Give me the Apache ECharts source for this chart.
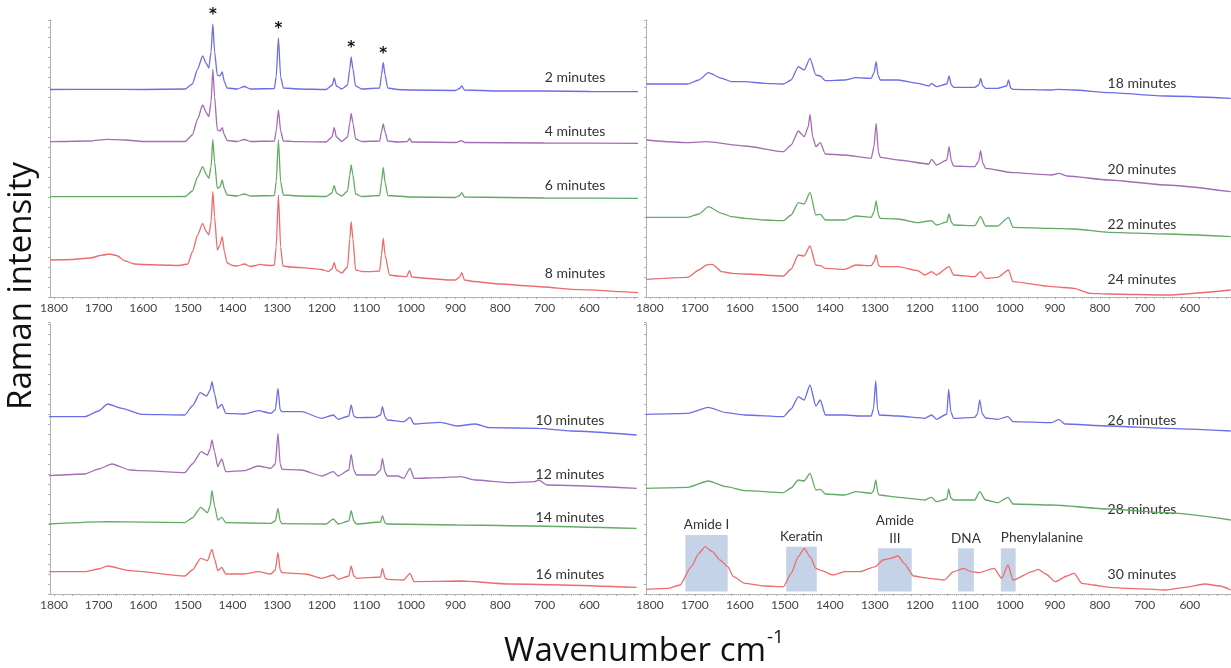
<!DOCTYPE html>
<html>
<head>
<meta charset="utf-8">
<script src="https://cdn.jsdelivr.net/npm/echarts@6/dist/echarts.min.js"></script>
<style>
html,body{margin:0;padding:0;background:#fff;}
#chart{width:1231px;height:668px;}
</style>
</head>
<body>
<div id="chart"></div>
<script>
// ---------- tick labels ----------
const tickLabels = [1800, 1700, 1600, 1500, 1400, 1300, 1200, 1100, 1000, 900, 800, 700, 600];

// ---------- spectra: [wavenumber cm-1, intensity (offset, arbitrary units)] ----------
// Panel A (2-8 minutes)
const spec02 = [[1809,207.5],[1700,207.7],[1600,207.5],[1506,208],[1490,213],[1478,228],[1467,241],[1458,233],[1453,229],[1448,245],[1444,273],[1440,245],[1434,222],[1428,221],[1423,225],[1418,215],[1412,209],[1390,208],[1373,210.5],[1360,208],[1306,208.5],[1302,220],[1297,259],[1292,220],[1286,209],[1250,208],[1190,207.5],[1176,212],[1172,219],[1167,211],[1155,208],[1142,212],[1137,228],[1134,240],[1130,228],[1124,211],[1110,208],[1070,209],[1066,222],[1062,234.5],[1058,222],[1052,209],[1030,207.5],[1000,207],[900,206.5],[891,208.5],[886,211],[880,207],[800,206],[700,206],[600,205.5],[491,205.3]];
const spec04 = [[1809,155.3],[1720,156],[1680,157.7],[1640,157],[1600,155.5],[1506,155.5],[1490,162],[1478,178],[1467,192],[1458,184],[1453,180.3],[1448,195],[1444,227.7],[1440,200],[1434,167],[1428,166],[1423,169.3],[1418,162],[1412,156.5],[1390,155.5],[1373,157.5],[1360,155.5],[1306,156],[1302,166],[1297,187],[1292,166],[1286,156],[1250,155.3],[1190,155],[1177,160],[1172,169.3],[1167,160],[1155,155.5],[1142,160],[1137,174],[1134,183.7],[1130,174],[1124,158],[1110,155.5],[1070,156],[1066,165],[1062,173],[1058,165],[1052,156],[1030,155],[1008,155.5],[1003,158.7],[998,155],[900,154.5],[886,156.3],[880,154.5],[700,154],[491,153.7]];
const spec06 = [[1809,100.3],[1600,100.3],[1506,100.5],[1490,106],[1478,120],[1467,130.3],[1458,122],[1453,118.7],[1448,130],[1444,157.7],[1440,135],[1434,108.7],[1428,110],[1423,117],[1418,108],[1412,102],[1390,101],[1373,103],[1360,101],[1306,101.5],[1302,115],[1297,157],[1292,115],[1286,102],[1250,101],[1190,100.5],[1177,104],[1172,111.3],[1167,104],[1155,101],[1142,106],[1137,122],[1134,132],[1130,122],[1124,103],[1110,100.5],[1070,101.5],[1066,115],[1062,129.7],[1058,115],[1052,101.5],[1000,100],[900,99.5],[891,101.5],[886,104.3],[880,100],[700,99],[491,98.7]];
const spec08 = [[1809,37],[1760,37.5],[1720,39],[1690,42],[1676,43],[1660,41.5],[1640,36],[1620,33],[1600,32.5],[1560,32],[1520,31.5],[1500,33],[1490,45],[1478,62],[1467,73.7],[1458,65],[1453,62],[1448,75],[1444,105.3],[1440,80],[1434,47],[1428,52],[1423,60.3],[1418,45],[1412,34],[1400,31.5],[1390,31],[1373,33],[1360,30.5],[1348,31.5],[1338,32.7],[1330,32],[1315,31.5],[1306,32],[1302,50],[1297,102],[1292,50],[1287,31],[1270,30],[1250,29.5],[1227,28.7],[1200,27.5],[1185,25.5],[1177,28],[1172,34.3],[1167,27],[1155,24],[1142,30],[1137,58],[1134,75.3],[1130,58],[1124,27],[1110,25.5],[1093,25.3],[1070,26],[1066,42],[1062,58.7],[1058,42],[1048,22],[1030,21],[1010,20.3],[1003,26.3],[998,20],[960,18.5],[915,17],[900,17],[891,20],[886,24.3],[880,17],[860,15.5],[800,13],[732,11],[700,10],[641,7.7],[491,4.3]];

// Panel B (18-24 minutes)
const spec18 = [[1808,213],[1716,213],[1691,217],[1670,224.3],[1640,218.7],[1618,215.3],[1589,215.3],[1546,213.7],[1503,213],[1486,217],[1470,230.3],[1457,227],[1444,238.7],[1431,222],[1421,221],[1410,216.3],[1367,217],[1342,219.3],[1308,218.7],[1302,224],[1297,235.3],[1293,222],[1288,217],[1248,217],[1205,213.7],[1180,211],[1174,213.7],[1163,210.3],[1140,213],[1135,221],[1130,212],[1125,209.7],[1078,209.7],[1069,212],[1065,218.7],[1060,211],[1054,208.7],[1027,208.7],[1007,211],[1003,217],[998,209],[993,207.7],[907,207],[891,207.7],[857,207],[780,204.3],[652,201],[509,198.7]];
const spec20 = [[1808,157],[1716,154.3],[1674,155.3],[1589,151],[1503,145.3],[1486,152],[1470,166],[1457,160.3],[1448,170],[1444,182.7],[1438,160],[1431,150.3],[1421,154.3],[1410,143],[1367,142],[1308,138.7],[1302,150],[1297,173.7],[1292,145],[1288,139.7],[1248,137],[1180,133],[1174,137.7],[1163,132],[1140,137],[1135,150.3],[1130,136],[1125,131],[1078,130.3],[1069,136],[1065,146.3],[1060,134],[1054,128.7],[993,124.3],[907,122],[891,123.7],[873,121],[780,117],[652,112],[509,105.3]];
const spec22 = [[1808,79.7],[1716,79.7],[1691,83],[1670,90.3],[1640,83.7],[1618,80.3],[1589,78.7],[1546,77],[1503,76.3],[1486,82],[1470,94.3],[1457,93],[1444,104.7],[1431,82],[1421,82.7],[1410,77],[1367,77],[1342,81],[1308,79.7],[1302,85],[1297,96],[1292,82],[1288,78.7],[1248,78],[1205,74.3],[1180,76],[1174,76.3],[1163,72],[1140,75],[1135,83],[1130,75],[1125,72],[1078,71.3],[1065,80.3],[1054,71],[1027,71],[1003,79.7],[993,69.7],[907,68.7],[857,68],[780,64.7],[652,63],[509,60.3]];
const spec24 = [[1808,17.7],[1716,19.7],[1691,27],[1674,32],[1661,32.7],[1640,25.3],[1618,23.7],[1589,23],[1503,21],[1486,28],[1470,42],[1457,41],[1444,51],[1431,32],[1421,31.3],[1410,28.7],[1367,27.7],[1342,32],[1308,31.3],[1302,35],[1297,42],[1292,32],[1288,30.3],[1248,30.3],[1205,26.3],[1189,22],[1174,25.3],[1163,22],[1135,30.3],[1125,22],[1078,20.3],[1065,25.3],[1054,18.7],[1027,19.7],[1003,27],[993,15.3],[907,10.3],[857,8.7],[822,3.7],[780,3],[652,2],[509,7]];

// Panel C (10-16 minutes)
const spec10 = [[1811,177.3],[1731,177.3],[1700,183],[1680,190],[1648,185.7],[1603,179.7],[1507,179],[1490,188],[1472,201.3],[1458,198],[1450,204],[1446,212.3],[1440,200],[1433,185.7],[1424,189.7],[1415,180.7],[1374,180],[1342,183.3],[1314,180.7],[1304,184],[1298,205.7],[1293,184],[1289,182.3],[1245,182.3],[1200,175.7],[1174,179],[1163,174.7],[1139,178],[1134,189],[1128,178],[1122,176.3],[1080,176.7],[1068,179],[1064,187.3],[1058,177],[1053,174],[1016,172.3],[1002,176.7],[993,170],[934,171.7],[897,168],[856,170],[824,166.3],[714,165.7],[641,163],[494,159]];
const spec12 = [[1811,118.3],[1731,120],[1700,125],[1670,130],[1630,124],[1603,123.3],[1507,121.3],[1490,130],[1470,142.3],[1456,139],[1450,145],[1446,154],[1440,142],[1433,127.3],[1424,135],[1415,122.3],[1374,123.3],[1342,128],[1314,125.7],[1304,130],[1298,160.7],[1293,130],[1289,124.7],[1245,124],[1200,118],[1174,122.3],[1163,118],[1139,124],[1134,139.7],[1128,124],[1122,119],[1080,119],[1068,124],[1064,135.7],[1058,122],[1053,118],[1030,118],[1016,115.7],[1002,125.7],[993,115.7],[934,116.3],[888,117.3],[856,114],[778,111.3],[723,112.3],[714,114],[695,109],[494,105.7]];
const spec14 = [[1811,70],[1680,72.3],[1507,71.3],[1490,76],[1471,86.7],[1456,81.3],[1450,88],[1446,103.3],[1440,88],[1433,74],[1424,76.7],[1415,71.3],[1314,70.7],[1304,73],[1298,85.7],[1293,73],[1289,70.3],[1190,70],[1174,75],[1163,70],[1139,73],[1134,83.3],[1128,73],[1122,70],[1068,72],[1064,78.3],[1058,71],[1053,70],[897,69],[494,65.7]];
const spec16 = [[1811,22.3],[1731,22.3],[1700,25],[1680,28],[1630,23.3],[1507,18],[1490,24],[1471,35.7],[1456,33.3],[1446,44.7],[1440,35],[1433,23.3],[1424,26.7],[1415,20],[1374,20],[1342,22.3],[1314,20],[1304,24],[1298,41.3],[1293,24],[1289,21.3],[1236,20],[1200,15.7],[1174,19],[1163,14.7],[1139,18],[1134,28],[1128,18],[1122,15.7],[1068,17],[1064,25.7],[1058,16],[1053,14.7],[1016,14],[1002,20.7],[993,12.3],[888,13],[778,10],[494,6.7]];

// Panel D (26-30 minutes)
const spec26 = [[1808,179.7],[1716,180.7],[1670,186.7],[1630,181.3],[1589,179],[1503,177.3],[1486,185],[1470,197.3],[1457,194],[1444,209],[1431,188],[1421,194],[1410,179],[1367,179],[1333,178],[1308,178],[1303,185],[1298,213.3],[1294,185],[1290,179],[1248,178],[1189,175.7],[1174,179],[1163,174.7],[1140,180],[1136,204.7],[1131,182],[1125,175.7],[1078,176.7],[1072,180],[1067,194],[1061,180],[1054,176],[1027,174.7],[1004,177.3],[993,172.3],[907,171.3],[891,174.7],[878,170],[780,168],[652,165.7],[509,163]];
const spec28 = [[1808,105.7],[1716,106.7],[1670,113],[1630,107.3],[1589,103.3],[1503,101.3],[1486,106],[1470,114],[1457,113],[1444,120.7],[1431,104],[1421,104.7],[1410,100],[1367,99],[1342,102.3],[1308,100.7],[1303,103],[1298,114],[1293,101],[1290,99],[1248,96.7],[1189,94],[1174,96.7],[1163,92.3],[1140,95],[1136,105],[1131,96],[1125,94],[1078,94],[1067,102.3],[1054,94],[1027,91.3],[1004,96.7],[993,90],[907,89],[780,85],[652,81.3],[509,74]];
const spec30 = [[1808,4.7],[1759,5.7],[1733,9],[1708,27.3],[1691,40.7],[1677,47.3],[1661,42.3],[1644,34],[1627,27.3],[1614,17.3],[1589,10.7],[1546,8],[1503,7.3],[1486,20.7],[1470,37.3],[1457,45.7],[1444,37.3],[1431,25.7],[1418,23.3],[1393,19],[1367,22.3],[1333,22.3],[1299,27.3],[1282,34],[1265,35.7],[1248,38],[1235,30.7],[1214,18],[1180,15.7],[1146,14],[1125,22.3],[1103,25.7],[1086,22.3],[1069,21.3],[1035,25.7],[1018,15.7],[1004,29],[993,14],[950,22.3],[937,24.7],[920,20],[899,12.3],[873,18],[857,20.7],[840,10.7],[814,9],[780,6.7],[737,5.7],[652,4],[610,6.7],[567,10],[533,8],[509,4]];

// names, colors
const timeLabels = {
  a: ['2 minutes', '4 minutes', '6 minutes', '8 minutes'],
  b: ['18 minutes', '20 minutes', '22 minutes', '24 minutes'],
  c: ['10 minutes', '12 minutes', '14 minutes', '16 minutes'],
  d: ['26 minutes', '28 minutes', '30 minutes']
};
const asteriskPeaks = [1444, 1297, 1134, 1062];
const bandNames = ['Amide I', 'Keratin', 'Amide\nIII', 'DNA', 'Phenylalanine'];
const bandRanges = [[1721, 1627], [1497, 1429], [1293, 1218], [1115, 1080], [1020, 987]];
const bandTops = [59, 47.3, 45.7, 45.7, 45.7];

const C_BLUE = '#6d6de6', C_PURPLE = '#a46db4', C_GREEN = '#63aa63', C_RED = '#ee6b6b';

// ---------- chart ----------
const chart = echarts.init(document.getElementById('chart'));

const grids = [
  {left: 50, right: 593, top: 20, bottom: 371},
  {left: 646, right: 0, top: 20, bottom: 371},
  {left: 50, right: 593, top: 322, bottom: 74},
  {left: 646, right: 0, top: 322, bottom: 74}
];
const xRanges = [[491, 1809], [508.5, 1808.5], [491, 1809], [508.5, 1808.5]];
const yMax = [277, 277, 272, 272];

const minorTicks = [];
for (let v = 1800; v >= 500; v -= 20) minorTicks.push(v);

const xAxes = xRanges.map((r, i) => ({
  type: 'value', gridIndex: i, inverse: true, min: r[0], max: r[1],
  axisLine: {show: true, onZero: false, lineStyle: {color: '#a0a0a0', width: 1, type: 'dotted'}},
  axisTick: {show: true, customValues: minorTicks, length: 2, lineStyle: {color: '#b0b0b0'}},
  axisLabel: {customValues: tickLabels, formatter: v => String(v), color: '#444', fontSize: 12, fontFamily: 'Lato', margin: 5},
  splitLine: {show: false}
}));
const yAxes = yMax.map((m, i) => ({
  type: 'value', gridIndex: i, min: 0, max: m, interval: 10,
  axisLine: {show: true, lineStyle: {color: '#a0a0a0', width: 1, type: 'dotted'}},
  axisTick: {show: true, length: 2, lineStyle: {color: '#b0b0b0'}},
  axisLabel: {show: false},
  splitLine: {show: false}
}));

function line(name, data, color, idx, extra) {
  return Object.assign({
    name: name, type: 'line', data: data, xAxisIndex: idx, yAxisIndex: idx,
    showSymbol: false, symbol: 'none', smooth: 0.2, smoothMonotone: 'x',
    lineStyle: {color: color, width: 1.3}, itemStyle: {color: color},
    silent: true, animation: false, z: 3
  }, extra || {});
}

function heightAt(arr, w) {
  const p = arr.find(d => d[0] === w);
  return p ? p[1] : 0;
}

const series = [
  line(timeLabels.a[0], spec02, C_BLUE, 0, {
    markPoint: {
      symbol: 'circle', symbolSize: 0, silent: true, animation: false,
      label: {show: true, position: 'top', distance: 1, formatter: '*', color: '#111', fontSize: 15, fontWeight: 'bold', fontFamily: 'DejaVu Sans'},
      data: asteriskPeaks.map(w => ({coord: [w, heightAt(spec02, w)]}))
    }
  }),
  line(timeLabels.a[1], spec04, C_PURPLE, 0),
  line(timeLabels.a[2], spec06, C_GREEN, 0),
  line(timeLabels.a[3], spec08, C_RED, 0),
  line(timeLabels.b[0], spec18, C_BLUE, 1),
  line(timeLabels.b[1], spec20, C_PURPLE, 1),
  line(timeLabels.b[2], spec22, C_GREEN, 1),
  line(timeLabels.b[3], spec24, C_RED, 1),
  line(timeLabels.c[0], spec10, C_BLUE, 2),
  line(timeLabels.c[1], spec12, C_PURPLE, 2),
  line(timeLabels.c[2], spec14, C_GREEN, 2),
  line(timeLabels.c[3], spec16, C_RED, 2),
  line(timeLabels.d[0], spec26, C_BLUE, 3),
  line(timeLabels.d[1], spec28, C_GREEN, 3),
  line(timeLabels.d[2], spec30, C_RED, 3, {
    markArea: {
      silent: true, animation: false,
      itemStyle: {color: 'rgba(160,184,218,0.62)'},
      label: {show: true, position: 'top', distance: 1, color: '#333', fontSize: 13.5, fontFamily: 'Lato', lineHeight: 18},
      data: bandNames.map((n, i) => {
        const item = {name: n, coord: [bandRanges[i][0], bandTops[i]]};
        if (n === 'Phenylalanine') {
          item.label = {position: [0, -2], align: 'left', verticalAlign: 'bottom'};
        }
        return [item, {coord: [bandRanges[i][1], 2.5]}];
      })
    }
  })
];

// text labels for spectra
const labelPos = {
  a: {x: 575, y: [77, 131, 185, 273]},
  b: {x: 1142, y: [83, 169, 224, 279]},
  c: {x: 570, y: [420, 474, 517, 574]},
  d: {x: 1142, y: [420, 509, 574]}
};
const graphics = [];
Object.keys(timeLabels).forEach(k => {
  timeLabels[k].forEach((t, i) => {
    graphics.push({
      type: 'text', x: labelPos[k].x, y: labelPos[k].y[i], silent: true,
      style: {text: t, fill: '#333', font: '14px Lato', textAlign: 'center', textVerticalAlign: 'middle'}
    });
  });
});
graphics.push({
  type: 'text', x: 22, y: 286, rotation: Math.PI / 2, silent: true,
  style: {text: 'Raman intensity', fill: '#111', font: '33px "Open Sans"', textAlign: 'center', textVerticalAlign: 'middle'}
});
graphics.push({
  type: 'text', x: 766, y: 652, silent: true,
  style: {text: 'Wavenumber cm', fill: '#111', font: '33px "Open Sans"', textAlign: 'right', textVerticalAlign: 'middle'}
});
graphics.push({
  type: 'text', x: 767, y: 647, silent: true,
  style: {text: '-1', fill: '#111', font: '19px "Open Sans"', textAlign: 'left', textVerticalAlign: 'bottom'}
});

chart.setOption({
  animation: false,
  backgroundColor: '#ffffff',
  grid: grids,
  xAxis: xAxes,
  yAxis: yAxes,
  series: series,
  graphic: graphics
});
</script>
</body>
</html>
